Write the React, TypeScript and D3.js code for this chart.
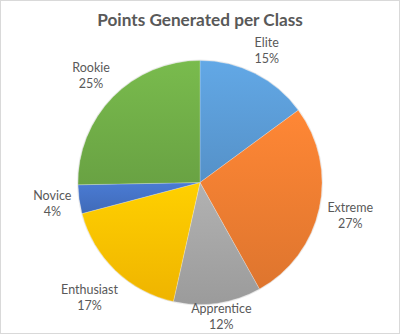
import React, { useEffect, useRef } from "react";
import * as d3 from "d3";

const categories = ["Elite", "Extreme", "Apprentice", "Enthusiast", "Novice", "Rookie"];
const values = [14.9, 27.0, 11.6, 17.4, 3.8, 25.3];
const colors = ["#5B9BD5", "#ED7D31", "#A5A5A5", "#FFC000", "#4472C4", "#70AD47"];
const title = "Points Generated per Class";

const W = 400;
const H = 334;

export default function App() {
  const ref = useRef<SVGSVGElement | null>(null);

  useEffect(() => {
    const svg = d3.select(ref.current);
    svg.selectAll("*").remove();

    const cx = 200;
    const cy = 182.5;
    const R = 122;
    const font = "Lato, 'Open Sans', 'DejaVu Sans', sans-serif";
    const textColor = "#595959";

    svg.append("rect").attr("x", 0.5).attr("y", 0.5).attr("width", W - 1).attr("height", H - 1)
      .attr("fill", "#ffffff").attr("stroke", "#d9d9d9").attr("stroke-width", 1);

    const defs = svg.append("defs");
    colors.forEach((c, i) => {
      const g = defs.append("linearGradient").attr("id", `grad${i}`)
        .attr("x1", 0).attr("y1", 0).attr("x2", 0).attr("y2", 1);
      g.append("stop").attr("offset", "0%").attr("stop-color", d3.color(c)!.brighter(0.22).formatHex());
      g.append("stop").attr("offset", "100%").attr("stop-color", d3.color(c)!.darker(0.18).formatHex());
    });

    svg.append("text").attr("x", cx).attr("y", 25.5).attr("text-anchor", "middle")
      .attr("font-family", font).attr("font-weight", "bold").attr("font-size", 17.2)
      .attr("fill", textColor).text(title);

    const total = d3.sum(values);
    const pie = d3.pie<number>().sort(null).value((d) => d)(values);
    const arc = d3.arc<d3.PieArcDatum<number>>().innerRadius(0).outerRadius(R);

    const g = svg.append("g").attr("transform", `translate(${cx},${cy})`);
    g.selectAll("path").data(pie).join("path")
      .attr("d", arc as any)
      .attr("fill", (_d, i) => `url(#grad${i})`)
      .attr("stroke", "rgba(255,255,255,0.35)")
      .attr("stroke-width", 0.6);

    g.append("circle").attr("r", R + 0.5).attr("fill", "none")
      .attr("stroke", "rgba(0,0,0,0.08)").attr("stroke-width", 1);

    const fs = 12.5;
    const lineH = 16;
    const gap = 6;
    pie.forEach((p, i) => {
      const lab = svg.append("g");
      const t1 = lab.append("text").attr("text-anchor", "middle").attr("dominant-baseline", "central")
        .attr("font-family", font).attr("font-size", fs).attr("fill", textColor).text(categories[i]);
      const pct = Math.round((values[i] / total) * 100) + "%";
      const t2 = lab.append("text").attr("text-anchor", "middle").attr("dominant-baseline", "central")
        .attr("font-family", font).attr("font-size", fs).attr("fill", textColor).text(pct);
      const w = Math.max((t1.node() as SVGTextElement).getComputedTextLength(),
        (t2.node() as SVGTextElement).getComputedTextLength());
      const h = lineH * 2;
      const a = (p.startAngle + p.endAngle) / 2;
      const s = Math.sin(a);
      const c = -Math.cos(a);
      const d = R + gap + Math.abs(c) * h / 2 + Math.abs(s) * w / 2;
      const lx = cx + d * s;
      let ly = cy + d * c;
      ly = Math.min(ly, H - 1.5 - h / 2);
      t1.attr("x", lx).attr("y", ly - lineH / 2);
      t2.attr("x", lx).attr("y", ly + lineH / 2);
    });
  }, []);

  return (
    <>
      <style>{`body{margin:0}`}</style>
      <svg ref={ref} width={W} height={H} style={{ display: "block" }} />
    </>
  );
}
